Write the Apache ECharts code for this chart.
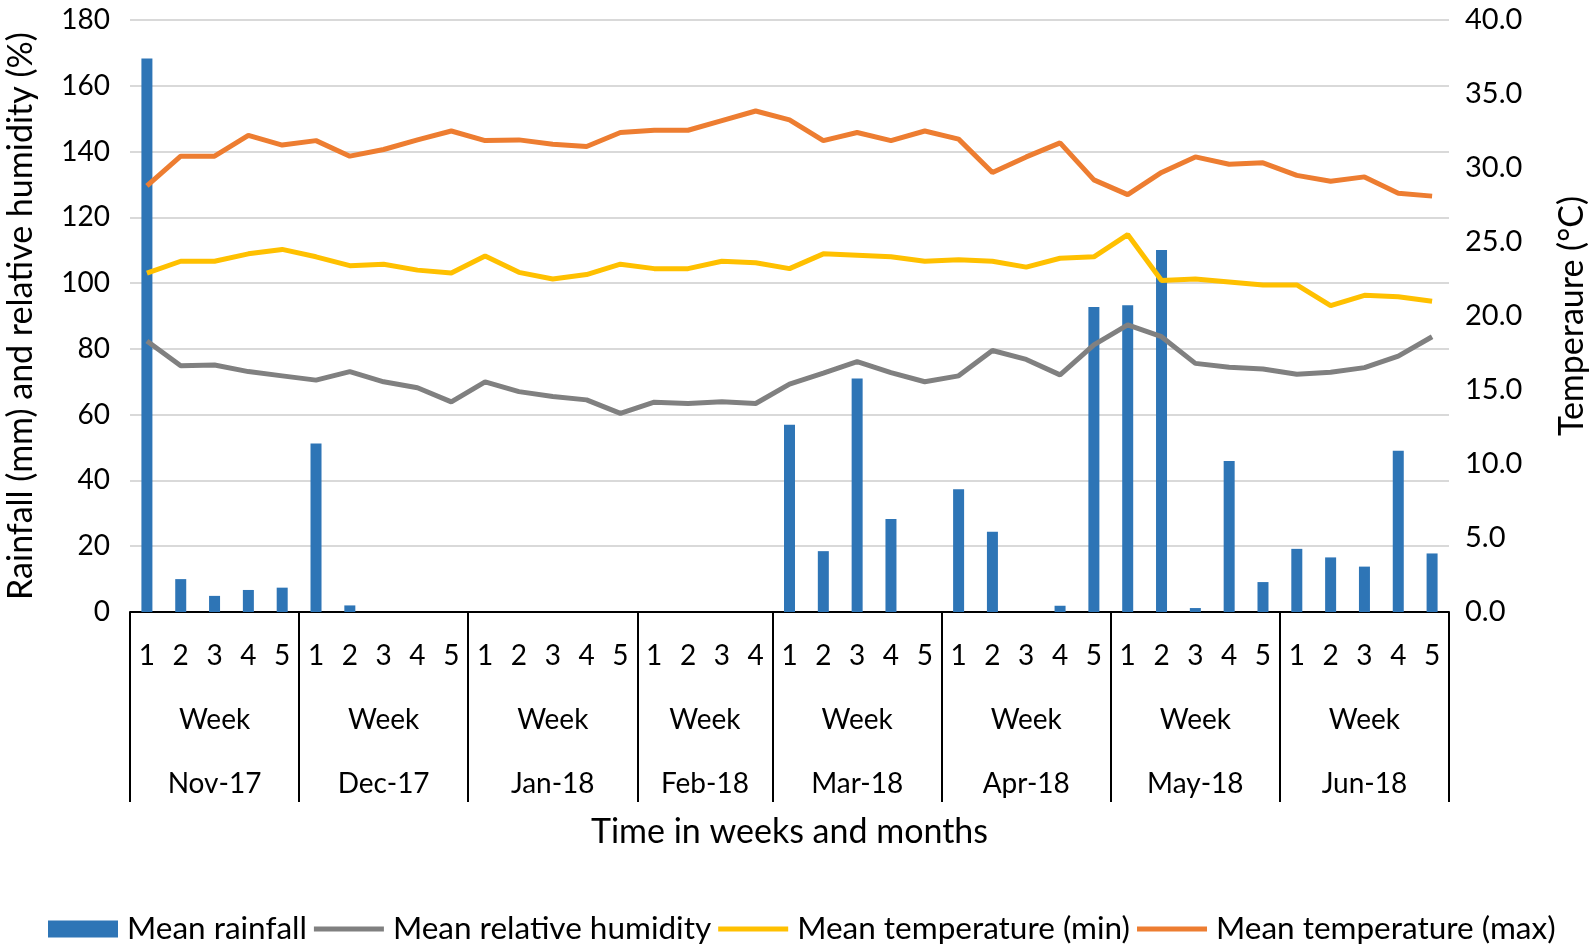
<!DOCTYPE html>
<html>
<head>
<meta charset="utf-8">
<script src="https://cdn.jsdelivr.net/npm/echarts@6/dist/echarts.min.js"></script>
<style>
html,body{margin:0;padding:0;background:#fff;}
#chart{width:1594px;height:949px;}
</style>
</head>
<body>
<div id="chart"></div>
<script>
// ---- data ----
const months = ['Nov-17','Dec-17','Jan-18','Feb-18','Mar-18','Apr-18','May-18','Jun-18'];
const weeksPerMonth = [5,5,5,4,5,5,5,5];
const weekLabels = ['1','2','3','4','5','1','2','3','4','5','1','2','3','4','5','1','2','3','4',
                    '1','2','3','4','5','1','2','3','4','5','1','2','3','4','5','1','2','3','4','5'];
const rainfall = [168.3,10.0,4.9,6.7,7.4, 51.2,2.0,0,0,0, 0,0,0,0,0, 0,0,0,0,
                  56.9,18.5,71.0,28.3,0, 37.3,24.4,0,1.9,92.7, 93.3,110.1,1.2,45.9,9.1,
                  19.2,16.6,13.8,49.0,17.8];
const humidity = [82.4,74.9,75.1,73.1,71.8, 70.5,73.1,70.0,68.2,63.9, 70.0,67.0,65.5,64.5,60.4,
                  63.8,63.4,63.9,63.4, 69.3,72.6,76.1,72.8,70.0, 71.8,79.5,76.8,72.1,81.2,
                  87.3,83.7,75.6,74.4,73.9, 72.3,72.9,74.3,77.8,83.7];
const tempMin = [22.9,23.7,23.7,24.2,24.5, 24.0,23.4,23.5,23.1,22.9, 24.05,22.95,22.5,22.8,23.5,
                 23.2,23.2,23.7,23.6, 23.2,24.2,24.1,24.0,23.7, 23.8,23.7,23.3,23.9,24.0,
                 25.5,22.4,22.5,22.3,22.1, 22.1,20.7,21.4,21.3,21.0];
const tempMax = [28.8,30.8,30.8,32.2,31.55, 31.85,30.8,31.25,31.9,32.5, 31.85,31.9,31.6,31.45,32.4,
                 32.55,32.55,33.2,33.85, 33.25,31.85,32.4,31.85,32.5, 31.95,29.7,30.75,31.7,29.2,
                 28.2,29.7,30.75,30.25,30.35, 29.5,29.1,29.4,28.3,28.1];
const leftTicks = {min:0, max:180, interval:20};
const rightTicks = {min:0, max:40, interval:5};

// ---- derived month boundaries / centers ----
const boundaries = [0];
weeksPerMonth.forEach(n => boundaries.push(boundaries[boundaries.length-1] + n));
const centers = months.map((m,i) => (boundaries[i] + boundaries[i+1]) / 2);
const totalWeeks = boundaries[boundaries.length-1];

const FONT = 'Lato';
const TXT = '#000000';
const FS = 28;
const FS_NAME = 34;
const FS_LEG = 31.5;
const LW = 5;
// thick-line legend icon (invisible corner points keep the bar thin inside the 70x17 box)
const lineIcon = 'path://M0,0 L0,0 M70,17 L70,17 M0,6 L70,6 L70,11 L0,11 Z';

const chart = echarts.init(document.getElementById('chart'), null, {renderer:'canvas'});
chart.setOption({
  animation:false,
  textStyle:{fontFamily:FONT, color:TXT},
  grid:{left:130, right:145, top:20, bottom:337, containLabel:false, outerBoundsMode:'none'},
  legend:{
    left:43, top:908, itemWidth:70, itemHeight:17, itemGap:7,
    textStyle:{fontFamily:FONT, fontSize:FS_LEG, color:TXT, padding:[0,0,0,4]},
    data:[
      {name:'Mean rainfall', icon:'rect'},
      {name:'Mean relative humidity', icon:lineIcon},
      {name:'Mean temperature (min)', icon:lineIcon},
      {name:'Mean temperature (max)', icon:lineIcon}
    ]
  },
  xAxis:[
    {
      type:'category', data:weekLabels, position:'bottom', boundaryGap:true,
      axisLine:{show:true, lineStyle:{color:'#000', width:2}},
      axisTick:{show:false},
      axisLabel:{interval:0, fontSize:FS, color:TXT, fontFamily:FONT, margin:30},
      splitLine:{show:false}
    },
    {
      type:'value', min:0, max:totalWeeks, position:'bottom',
      axisLine:{show:false},
      splitLine:{show:false},
      axisTick:{show:true, inside:false, length:190, customValues:boundaries,
                lineStyle:{color:'#000', width:2}},
      axisLabel:{customValues:centers, fontSize:FS, color:TXT, fontFamily:FONT, margin:76,
                 lineHeight:64,
                 formatter:function(v){ const i = centers.indexOf(v); return i>=0 ? 'Week\n' + months[i] : ''; }},
      name:'Time in weeks and months', nameLocation:'middle', nameGap:203, nameMoveOverlap:false,
      nameTextStyle:{fontSize:FS_NAME, color:TXT, fontFamily:FONT}
    }
  ],
  yAxis:[
    {
      type:'value', min:leftTicks.min, max:leftTicks.max, interval:leftTicks.interval, position:'left',
      axisLine:{show:false}, axisTick:{show:false},
      axisLabel:{fontSize:FS, color:TXT, fontFamily:FONT, margin:20},
      splitLine:{show:true, lineStyle:{color:'#D9D9D9', width:2}},
      name:'Rainfall (mm) and relative humidity (%)', nameLocation:'middle', nameRotate:90, nameGap:92,
      nameTextStyle:{fontSize:FS_NAME, color:TXT, fontFamily:FONT}
    },
    {
      type:'value', min:rightTicks.min, max:rightTicks.max, interval:rightTicks.interval, position:'right',
      axisLine:{show:false}, axisTick:{show:false},
      axisLabel:{fontSize:29, color:TXT, fontFamily:FONT, margin:16,
                 formatter:function(v){return v.toFixed(1);}},
      splitLine:{show:false},
      name:'Temperaure (°C)', nameLocation:'middle', nameRotate:90, nameGap:106,
      nameTextStyle:{fontSize:FS_NAME, color:TXT, fontFamily:FONT}
    }
  ],
  series:[
    {name:'Mean rainfall', type:'bar', data:rainfall, xAxisIndex:0, yAxisIndex:0, barWidth:11,
     itemStyle:{color:'#2E75B6'}, z:2},
    {name:'Mean relative humidity', type:'line', data:humidity, xAxisIndex:0, yAxisIndex:0,
     symbol:'none', lineStyle:{color:'#808080', width:LW}, itemStyle:{color:'#808080'}, z:3},
    {name:'Mean temperature (min)', type:'line', data:tempMin, xAxisIndex:0, yAxisIndex:1,
     symbol:'none', lineStyle:{color:'#FFC000', width:LW}, itemStyle:{color:'#FFC000'}, z:3},
    {name:'Mean temperature (max)', type:'line', data:tempMax, xAxisIndex:0, yAxisIndex:1,
     symbol:'none', lineStyle:{color:'#ED7D31', width:LW}, itemStyle:{color:'#ED7D31'}, z:3}
  ]
});
</script>
</body>
</html>
